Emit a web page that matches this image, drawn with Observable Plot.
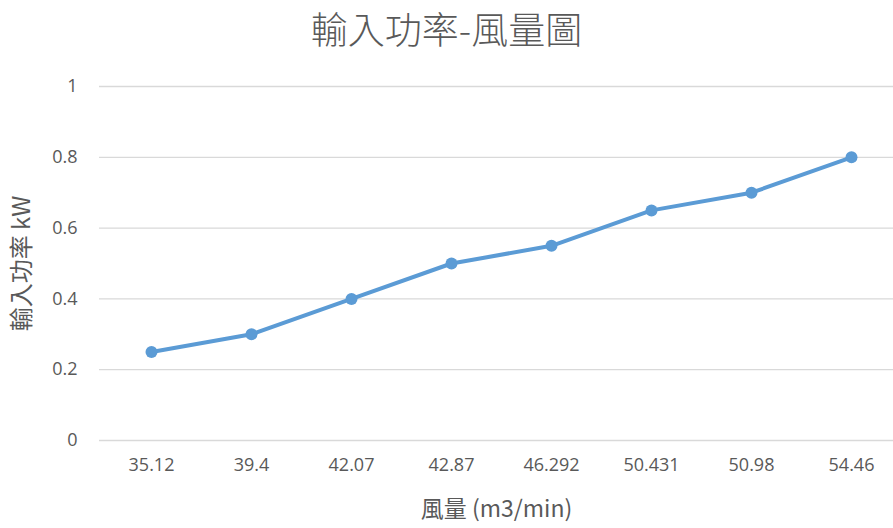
<!DOCTYPE html>
<html>
<head>
<meta charset="utf-8">
<script src="https://cdn.jsdelivr.net/npm/d3@7"></script>
<script src="https://cdn.jsdelivr.net/npm/@observablehq/plot@0.6"></script>
<style>
  html, body { margin: 0; padding: 0; background: #fff; overflow: hidden; }
  #title { height: 68px; line-height: 56px; text-align: center; font-family: "Noto Sans CJK TC", sans-serif; font-size: 37px; color: #595959; font-weight: 300; }
</style>
</head>
<body>
<div id="title">輸入功率-風量圖</div>
<div id="chart"></div>
<script>
const airflow = ["35.12", "39.4", "42.07", "42.87", "46.292", "50.431", "50.98", "54.46"];
const power = [0.25, 0.3, 0.4, 0.5, 0.55, 0.65, 0.7, 0.8];
const yTicks = [0, 0.2, 0.4, 0.6, 0.8, 1];
const xLabel = "風量 (m3/min)";
const yLabel = "輸入功率 kW";

const data = airflow.map((a, i) => ({a, p: power[i]}));

const chart = Plot.plot({
  width: 893,
  height: 460,
  marginLeft: 99,
  marginRight: 0,
  marginTop: 18,
  marginBottom: 88,
  style: {fontFamily: "'Open Sans', sans-serif", fontSize: "18px", color: "#595959", background: "#fff"},
  x: {type: "point", domain: airflow, range: [149, 852], padding: 0},
  y: {domain: [0, 1]},
  marks: [
    Plot.gridY(yTicks, {stroke: "#d9d9d9", strokeOpacity: 1, strokeWidth: 1.3}),
    Plot.axisY(yTicks, {tickSize: 0, tickPadding: 22, tickFormat: d => String(d), label: null, fill: "#595959", fontSize: 18}),
    Plot.axisX({tickSize: 0, tickPadding: 18, label: null, fill: "#595959", fontSize: 18}),
    Plot.line(data, {x: "a", y: "p", stroke: "#5B9BD5", strokeWidth: 4}),
    Plot.dot(data, {x: "a", y: "p", r: 6, fill: "#5B9BD5", stroke: "none"}),
    Plot.text([yLabel], {frameAnchor: "left", textAnchor: "middle", dx: -77, rotate: -90, fontSize: 24, fill: "#595959", fontFamily: "'Noto Sans CJK TC', sans-serif"}),
    Plot.text([xLabel], {frameAnchor: "bottom", dy: 76, fontSize: 23, fill: "#595959", fontFamily: "'Noto Sans CJK TC', sans-serif"})
  ]
});
document.getElementById("chart").appendChild(chart);
</script>
</body>
</html>
